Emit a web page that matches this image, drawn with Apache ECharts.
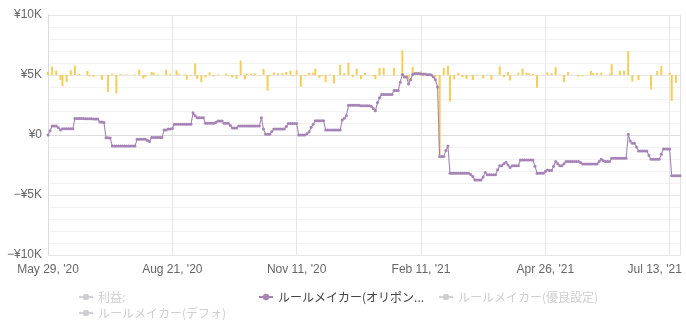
<!DOCTYPE html>
<html>
<head>
<meta charset="utf-8">
<script src="https://cdn.jsdelivr.net/npm/echarts@6/dist/echarts.min.js"></script>
<style>
  html, body { margin: 0; padding: 0; background: #fff; }
  #chart { width: 686px; height: 330px; }
</style>
</head>
<body>
<div id="chart"></div>
<script>
// Trading days shown on the category axis (one point per day)
const dayCount = 306;
const categories = Array.from({ length: dayCount }, (_, i) => String(i));

// Date labels, one every 60 trading days
const tickStep = 60;
const tickLabels = ["May 29, '20", "Aug 21, '20", "Nov 11, '20", "Feb 11, '21", "Apr 26, '21", "Jul 13, '21"];

// Value-axis ticks (yen)
const yTicks = [-10000, -5000, 0, 5000, 10000];

// Legend entries
const legendNames = ['利益:', 'ルールメイカー(オリポン...', 'ルールメイカー(優良設定)', 'ルールメイカー(デフォ)'];

// Cumulative result of the active rule maker (yen)
const cumulative = [
  0, 350, 750, 750, 750, 600, 420, 520, 520, 520,
  520, 520, 520, 1380, 1380, 1380, 1380, 1380, 1360, 1360,
  1360, 1360, 1330, 1330, 1330, 1080, 1080, 1050, -220, -220,
  -260, -910, -910, -910, -910, -910, -910, -910, -910, -910,
  -910, -910, -910, -360, -360, -360, -360, -360, -450, -550,
  -200, -200, -200, -200, -200, -200, 410, 410, 500, 500,
  550, 900, 900, 900, 900, 900, 900, 900, 900, 900,
  1850, 1600, 1440, 1440, 1440, 1440, 970, 970, 970, 970,
  970, 1050, 1160, 1160, 1160, 970, 970, 970, 800, 580,
  580, 580, 750, 750, 750, 750, 750, 750, 750, 750,
  750, 750, 750, 1440, 500, 60, 60, 60, 300, 500,
  500, 500, 500, 500, 500, 700, 950, 950, 950, 950,
  950, 0, 0, 0, 0, 100, 280, 640, 900, 1190,
  1190, 1190, 1190, 1190, 420, 420, 420, 420, 420, 420,
  420, 420, 1250, 1400, 1600, 2470, 2470, 2470, 2470, 2470,
  2470, 2430, 2430, 2430, 2430, 2430, 2400, 2200, 2020, 2700,
  3100, 3380, 3380, 3380, 3380, 3380, 3380, 3700, 3700, 3700,
  4400, 5050, 4840, 4840, 4260, 4600, 5050, 5120, 5120, 5120,
  5080, 5080, 5080, 5020, 5050, 5000, 4840, 4600, 4000, -1800,
  -1800, -1800, -1300, -910, -3180, -3180, -3180, -3180, -3180, -3180,
  -3180, -3180, -3180, -3180, -3300, -3460, -3740, -3740, -3740, -3740,
  -3500, -3130, -3320, -3320, -3320, -3320, -3320, -2900, -2570, -2570,
  -2400, -2270, -2500, -2710, -2570, -2570, -2570, -2570, -2080, -2080,
  -2080, -2080, -2080, -2080, -2080, -2600, -3180, -3180, -3180, -3180,
  -3050, -2910, -2950, -2950, -2600, -2210, -2400, -2570, -2570, -2400,
  -2210, -2210, -2210, -2210, -2210, -2210, -2210, -2300, -2410, -2410,
  -2410, -2410, -2410, -2410, -2410, -2410, -2200, -2020, -2150, -2210,
  -2210, -2210, -1940, -1940, -1940, -1940, -1940, -1940, -1940, -1940,
  60, -500, -690, -690, -1000, -1330, -1330, -1330, -1330, -1330,
  -1700, -2020, -2020, -2020, -2020, -2020, -1600, -1160, -1160, -1160,
  -1160, -3400, -3400, -3400, -3400, -3400
];

// Daily profit / loss (yen), drawn around its own zero line
const daily = [
  280, 0, 700, 0, 370, 0, -430, -950, 0, -600,
  0, 400, 0, 780, 0, 100, 0, 0, 0, 330,
  -120, 0, -150, 0, 0, 0, -400, 0, 0, -1420,
  0, 120, 0, -1550, 0, 80, 0, 0, 50, 0,
  0, 0, 50, 0, 450, 0, -300, -150, 0, 0,
  250, 200, 0, 50, 0, 0, 0, 450, 0, 100,
  0, 0, 400, 120, 0, 0, 50, -380, 0, -50,
  0, 950, -320, 0, -600, 0, -200, 0, 230, 0,
  -100, 0, 40, 0, 0, 0, 120, -50, 0, -200,
  0, -320, 0, 1200, 0, -380, 120, 0, 120, 0,
  120, 0, -50, 0, 500, 0, -1320, -100, 0, 220,
  0, 150, 0, 150, 0, 250, 0, 360, -100, 0,
  400, 0, -980, 0, -100, 0, 180, 0, 200, 540,
  0, -220, -100, 0, -600, 0, 50, 0, -720, 0,
  0, 850, 0, 150, 0, 1020, 0, -180, 0, 540,
  0, -350, 0, 180, 0, 20, 0, -100, -350, 0,
  600, 0, 600, 0, 20, 0, -20, 600, 0, 20,
  0, 2060, 0, -150, -500, 0, 680, 0, 120, 0,
  300, -100, 0, 20, -30, -80, 0, -200, 0, -6650,
  0, 600, 0, 760, -2200, 0, -350, 0, 180, 0,
  -180, 0, -320, 0, 0, -420, 0, 40, 0, 0,
  -270, 0, 20, 0, -400, 0, 0, 0, 730, 0,
  -180, 0, 260, -450, 0, 20, 0, 200, 0, 540,
  0, 180, 150, 0, 100, 0, -1070, 0, 0, 20,
  0, 220, 0, 150, 0, 660, 0, 30, 0, -580,
  0, 260, 0, 30, 0, 20, -120, 0, -100, 0,
  20, 0, 340, 160, 0, 150, 0, 200, 0, 20,
  0, 100, 900, 0, 20, 0, 360, 0, 360, 0,
  1980, 0, -550, 0, 0, -430, 0, 0, 0, 0,
  0, -1200, 0, 0, 340, 0, 760, 0, 0, 0,
  200, -2150, 0, -650, 0, 0
];

const LATIN = "'Liberation Sans', Arial, sans-serif";
const CJK = "'Noto Sans CJK JP', 'Noto Sans', sans-serif";
const purple = '#a683b6';
const gold = '#f5cd58';

function yenLabel(v) {
  if (v === 0) return '¥0';
  return (v < 0 ? '−' : '') + '¥' + (Math.abs(v) / 1000) + 'K';
}

const chart = echarts.init(document.getElementById('chart'), null, { renderer: 'canvas' });

chart.setOption({
  animation: false,
  backgroundColor: '#fff',
  grid: { left: 48, right: 6, top: 15, bottom: 75, containLabel: false, outerBoundsMode: 'none' },
  legend: {
    data: legendNames,
    selected: {
      '利益:': false,
      'ルールメイカー(オリポン...': true,
      'ルールメイカー(優良設定)': false,
      'ルールメイカー(デフォ)': false
    },
    left: 78,
    right: 0,
    top: 290,
    padding: 0,
    itemWidth: 14,
    itemHeight: 8,
    itemGap: 2,
    inactiveColor: '#cfcfcf',
    inactiveBorderColor: '#cfcfcf',
    textStyle: { fontFamily: CJK, fontSize: 12, color: '#444', width: 158, lineHeight: 14, overflow: 'truncate' }
  },
  xAxis: {
    type: 'category',
    data: categories,
    boundaryGap: false,
    axisLine: { show: true, lineStyle: { color: '#dcdcdc' } },
    axisTick: { show: false },
    splitLine: { show: true, interval: tickStep - 1, lineStyle: { color: '#e6e6ea' } },
    axisLabel: {
      interval: tickStep - 1,
      margin: 9,
      color: '#666',
      fontFamily: LATIN,
      fontSize: 12,
      formatter: function (value, index) {
        const k = index / tickStep;
        if (k === tickLabels.length - 1) return '{last|' + tickLabels[k] + '}';
        return tickLabels[k] || '';
      },
      rich: {
        last: { padding: [0, 30, 0, 0], color: '#666', fontFamily: LATIN, fontSize: 12 }
      }
    }
  },
  yAxis: [
    {
      type: 'value',
      min: yTicks[0],
      max: yTicks[yTicks.length - 1],
      interval: 5000,
      axisLine: { show: true, lineStyle: { color: '#dcdcdc' } },
      axisTick: { show: false },
      axisLabel: { margin: 6, color: '#666', fontFamily: LATIN, fontSize: 12, formatter: yenLabel },
      splitLine: { show: true, lineStyle: { color: '#e6e6e6' } },
      minorTick: { show: false, splitNumber: 5 },
      minorSplitLine: { show: true, lineStyle: { color: '#f2f2f2' } }
    },
    {
      type: 'value',
      position: 'right',
      min: -15000,
      max: 5000,
      interval: 5000,
      axisLine: { show: true, lineStyle: { color: '#e2e2e2' } },
      axisTick: { show: false },
      axisLabel: { show: false },
      splitLine: { show: false }
    }
  ],
  series: [
    {
      name: '日次損益',
      type: 'bar',
      yAxisIndex: 1,
      data: daily,
      barWidth: 2,
      itemStyle: { color: gold },
      z: 2
    },
    {
      name: legendNames[0],
      type: 'line',
      data: [],
      symbol: 'circle',
      symbolSize: 4,
      itemStyle: { color: '#9aa0a6' },
      lineStyle: { color: '#9aa0a6' }
    },
    {
      name: legendNames[1],
      type: 'line',
      data: cumulative,
      symbol: 'circle',
      symbolSize: 3,
      showSymbol: true,
      showAllSymbol: true,
      itemStyle: { color: purple },
      lineStyle: { color: purple, width: 1.1 },
      z: 3
    },
    {
      name: legendNames[2],
      type: 'line',
      data: [],
      symbol: 'circle',
      symbolSize: 4,
      itemStyle: { color: '#9aa0a6' },
      lineStyle: { color: '#9aa0a6' }
    },
    {
      name: legendNames[3],
      type: 'line',
      data: [],
      symbol: 'circle',
      symbolSize: 4,
      itemStyle: { color: '#9aa0a6' },
      lineStyle: { color: '#9aa0a6' }
    }
  ]
});
</script>
</body>
</html>
